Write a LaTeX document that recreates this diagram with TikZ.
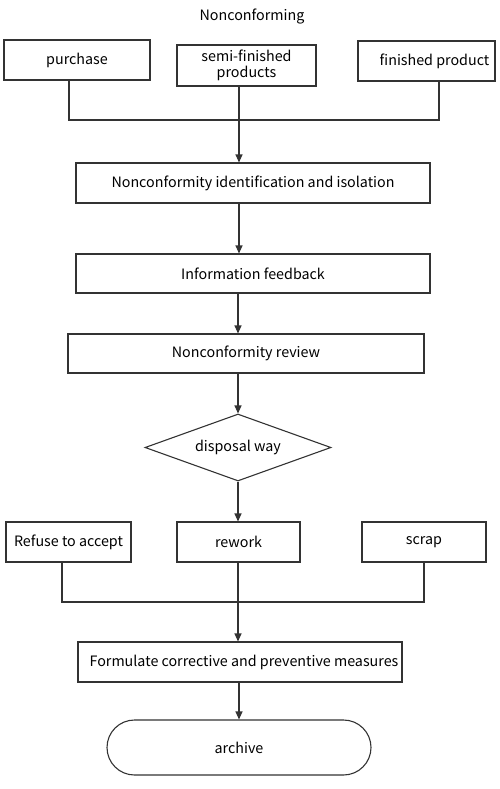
\documentclass[tikz,border=0pt]{standalone}
\usepackage{fontspec}
\setmainfont{Noto Sans CJK SC}
\usetikzlibrary{arrows.meta,shapes.geometric,shapes.misc,calc}
\tikzset{
  txt/.style={font=\fontsize{14.3}{15.5}\selectfont},
  box/.style={draw=black!80, line width=1.1pt, rectangle, inner sep=0pt, align=center, txt},
  dia/.style={draw=black!80, line width=1.1pt, diamond, inner sep=0pt, aspect=2.78, txt},
  term/.style={draw=black!80, line width=1.1pt, rounded rectangle, inner sep=0pt, txt},
  line/.style={draw=black!80, line width=1.1pt},
  arr/.style={line, -{Triangle[length=8pt,width=7pt]}}
}
\begin{document}
\begin{tikzpicture}[x=1pt,y=-1pt]
\useasboundingbox (0,0) rectangle (500,789);
\node[txt] (title) at (252,17) {Nonconforming};
\node[box, minimum width=146pt, minimum height=40pt] (purchase) at (77,60) {purchase};
\node[box, minimum width=139pt, minimum height=41pt] (semi) at (246.5,65.5) {semi-finished\\products};
\node[box, minimum width=137pt, minimum height=40pt] (finished) at (426.5,61) {\hspace*{16pt}finished product};
\node[box, minimum width=354pt, minimum height=40pt] (ident) at (253,183) {Nonconformity identification and isolation};
\node[box, minimum width=354pt, minimum height=39pt] (info) at (253,273.5) {Information feedback};
\node[box, minimum width=356pt, minimum height=39pt] (review) at (246,353.5) {Nonconformity review};
\node[dia, minimum width=186pt, minimum height=67pt] (disp) at (238,447.5) {disposal way};
\node[box, minimum width=125pt, minimum height=40pt] (refuse) at (68.5,542) {Refuse to accept};
\node[box, minimum width=123pt, minimum height=40pt] (rework) at (238.5,542) {rework};
\node[box, minimum width=124pt, minimum height=40pt] (scrap) at (424,542) {scrap};
\node[box, minimum width=324pt, minimum height=40pt] (form) at (240,662) {\hspace*{8pt}Formulate corrective and preventive measures};
\node[term, minimum width=264pt, minimum height=55pt] (archive) at (239,747.5) {archive};

\coordinate (jl1) at (69,120);
\coordinate (jm1) at (239,120);
\coordinate (jr1) at (439,120);
\draw[line] (purchase.south -| jl1) -- (jl1) -- (jr1) -- (finished.south -| jr1);
\draw[arr] (semi.south -| jm1) -- (jm1 |- ident.north);
\draw[arr] (ident.south -| jm1) -- (info.north -| jm1);
\coordinate (sp) at (238,0);
\draw[arr] (info.south -| sp) -- (review.north -| sp);
\draw[arr] (review.south -| sp) -- (disp.north);
\draw[arr] (disp.south) -- (rework.north -| disp.south);

\coordinate (jl2) at (62,602);
\coordinate (jm2) at (238,602);
\coordinate (jr2) at (424,602);
\draw[line] (refuse.south -| jl2) -- (jl2) -- (jr2) -- (scrap.south -| jr2);
\draw[arr] (rework.south -| jm2) -- (jm2 |- form.north);
\draw[arr] (form.south -| 239,0) -- (archive.north -| 239,0);
\end{tikzpicture}
\end{document}
